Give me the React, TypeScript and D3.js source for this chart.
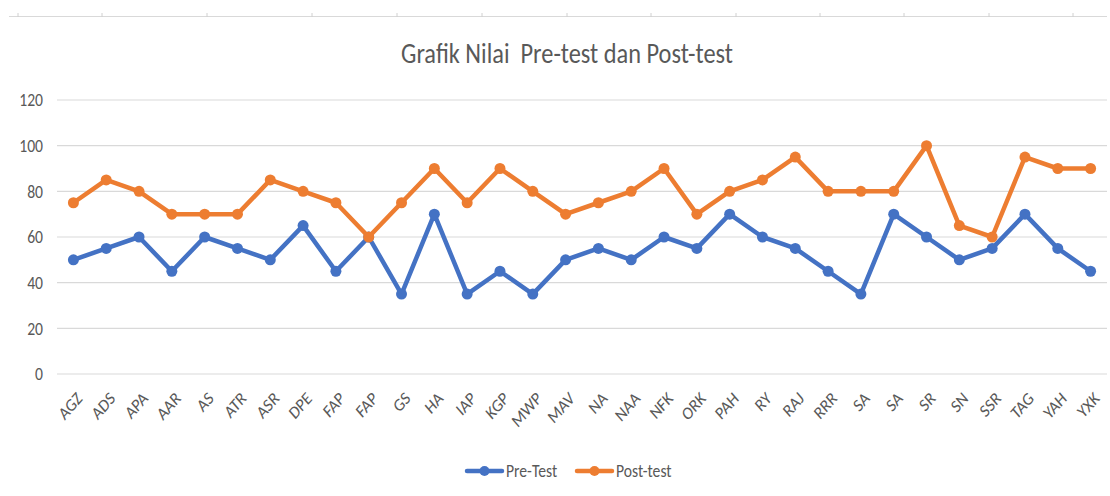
import { useEffect, useRef } from "react";
import * as d3 from "d3";

const students = [
  "AGZ", "ADS", "APA", "AAR", "AS", "ATR", "ASR", "DPE", "FAP", "FAP", "GS", "HA",
  "IAP", "KGP", "MWP", "MAV", "NA", "NAA", "NFK", "ORK", "PAH", "RY", "RAJ", "RRR",
  "SA", "SA", "SR", "SN", "SSR", "TAG", "YAH", "YXK",
];
const preTest = [
  50, 55, 60, 45, 60, 55, 50, 65, 45, 60, 35, 70,
  35, 45, 35, 50, 55, 50, 60, 55, 70, 60, 55, 45,
  35, 70, 60, 50, 55, 70, 55, 45,
];
const postTest = [
  75, 85, 80, 70, 70, 70, 85, 80, 75, 60, 75, 90,
  75, 90, 80, 70, 75, 80, 90, 70, 80, 85, 95, 80,
  80, 80, 100, 65, 60, 95, 90, 90,
];
const yTicks = [0, 20, 40, 60, 80, 100, 120];
const sheetCols = [18, 102, 207, 312, 397, 482, 567, 651, 736, 820, 904, 989, 1073];

const W = 1110;
const H = 496;
const FONT = "Carlito, 'Open Sans', 'Noto Sans', sans-serif";
const TEXT = "#595959";
const SQ = 0.87; // the picture is a bit squeezed sideways

export default function App() {
  const svgRef = useRef<SVGSVGElement>(null);

  useEffect(() => {
    const svg = d3.select(svgRef.current);
    svg.selectAll("*").remove();

    // faint sheet border across the top
    svg.append("line")
      .attr("x1", 9).attr("x2", 1107).attr("y1", 16.5).attr("y2", 16.5)
      .attr("stroke", "#d9d9d9").attr("stroke-width", 1);
    svg.selectAll(".col")
      .data(sheetCols)
      .join("line")
      .attr("x1", d => d).attr("x2", d => d)
      .attr("y1", 13).attr("y2", 17)
      .attr("stroke", "#d0d0d0");

    const x = d3.scaleBand<number>()
      .domain(d3.range(students.length))
      .range([57, 1107]);
    const y = d3.scaleLinear().domain([0, 120]).range([374, 100]);

    // gridlines
    svg.append("g")
      .selectAll("line")
      .data(yTicks)
      .join("line")
      .attr("x1", 57).attr("x2", 1107)
      .attr("y1", d => y(d)).attr("y2", d => y(d))
      .attr("stroke", "#d9d9d9").attr("stroke-width", 1.2);

    svg.append("g")
      .selectAll("text")
      .data(yTicks)
      .join("text")
      .attr("transform", d => `translate(43,${y(d)}) scale(${SQ},1)`)
      .attr("dy", "0.35em")
      .attr("text-anchor", "end")
      .attr("font-family", FONT)
      .attr("font-size", 18)
      .attr("fill", TEXT)
      .text(d => d);

    // x labels
    svg.append("g")
      .selectAll("text")
      .data(students)
      .join("text")
      .attr("transform", (_, i) => `translate(${x(i)! + x.bandwidth() / 2 + 6},${395}) scale(${SQ},1) rotate(-45)`)
      .attr("text-anchor", "end")
      .attr("dy", "0.35em")
      .attr("font-family", FONT)
      .attr("font-size", 18)
      .attr("fill", TEXT)
      .text(d => d);

    const cx = (i: number) => x(i)! + x.bandwidth() / 2;
    const line = d3.line<number>().x((_, i) => cx(i)).y(d => y(d));

    const series = [
      { values: preTest, color: "#4472C4" },
      { values: postTest, color: "#ED7D31" },
    ];
    series.forEach(s => {
      svg.append("path")
        .datum(s.values)
        .attr("d", line)
        .attr("fill", "none")
        .attr("stroke", s.color)
        .attr("stroke-width", 4.5)
        .attr("stroke-linejoin", "round");
      svg.append("g")
        .selectAll("circle")
        .data(s.values)
        .join("circle")
        .attr("cx", (_, i) => cx(i))
        .attr("cy", d => y(d))
        .attr("r", 5.5)
        .attr("fill", s.color);
    });

    // title
    svg.append("text")
      .attr("transform", `translate(567,63) scale(${SQ},1)`)
      .attr("text-anchor", "middle")
      .attr("font-family", FONT)
      .attr("font-size", 28)
      .attr("fill", TEXT)
      .style("white-space", "pre")
      .text("Grafik Nilai  Pre-test dan Post-test");

    // legend
    const legend = [
      { label: "Pre-Test", color: "#4472C4", x: 467 },
      { label: "Post-test", color: "#ED7D31", x: 577 },
    ];
    const lg = svg.append("g").selectAll("g").data(legend).join("g")
      .attr("transform", d => `translate(${d.x},471)`);
    lg.append("line")
      .attr("x1", 0).attr("x2", 35)
      .attr("stroke", d => d.color).attr("stroke-width", 4.5)
      .attr("stroke-linecap", "round");
    lg.append("circle").attr("cx", 17.5).attr("r", 5).attr("fill", d => d.color);
    lg.append("text")
      .attr("transform", `translate(39,0) scale(${SQ},1)`)
      .attr("dy", "0.35em")
      .attr("font-family", FONT)
      .attr("font-size", 18)
      .attr("fill", TEXT)
      .text(d => d.label);
  }, []);

  return (
    <svg
      ref={svgRef}
      width={W}
      height={H}
      style={{ position: "absolute", left: 0, top: 0, background: "#fff" }}
    />
  );
}
